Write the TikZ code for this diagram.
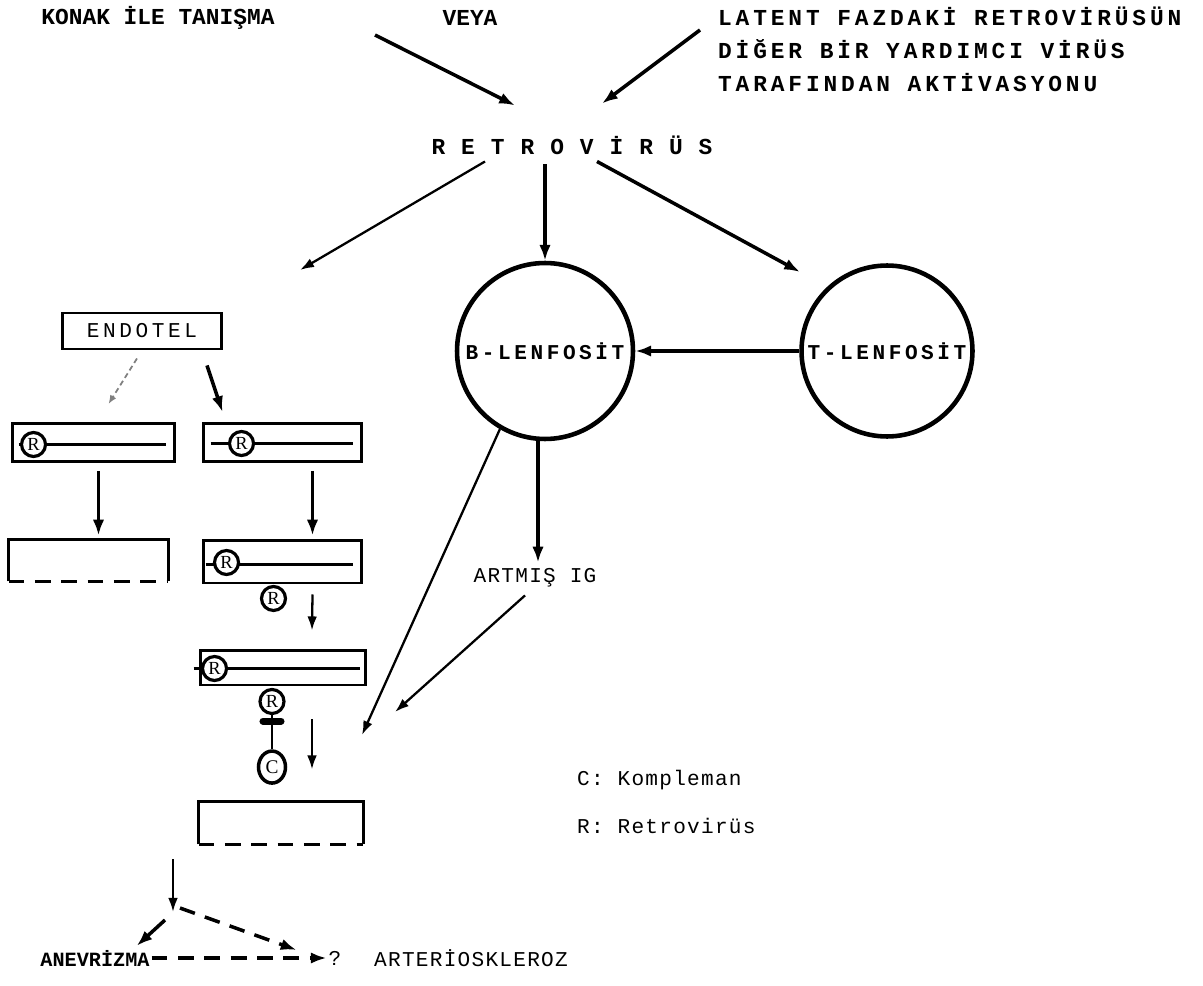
\documentclass[tikz,border=0pt]{standalone}
\usepackage{fontspec}
\setmainfont{Liberation Serif}
\newfontfamily\twplain{Liberation Mono}
\newfontfamily\twnarrow[LetterSpace=6]{Liberation Mono}
\newfontfamily\twmid[LetterSpace=10]{Liberation Mono}
\newfontfamily\twwide[LetterSpace=17]{Liberation Mono}
\usetikzlibrary{arrows.meta,positioning,calc,shapes.geometric}

\begin{document}
\begin{tikzpicture}[x=0.02cm,y=-0.02cm,
  arr/.style={-{Latex[length=9pt,width=6.5pt]},line width=2pt},
  thinarr/.style={-{Latex[length=8pt,width=5.5pt]},line width=1.3pt},
  faintarr/.style={-{Latex[length=5pt,width=4pt]},line width=1pt,gray,densely dashed},
  toptxt/.style={font=\twplain\bfseries\fontsize{13}{18.8}\selectfont,inner sep=1pt},
  widetxt/.style={font=\twwide\bfseries\fontsize{13}{18.8}\selectfont,inner sep=1pt},
  lowtxt/.style={font=\twnarrow\fontsize{12}{14}\selectfont,inner sep=1pt},
  lymph/.style={circle,draw,line width=2.6pt,inner sep=0pt,font=\twwide\bfseries\fontsize{12}{14}\selectfont},
  cellbox/.style={line width=1.7pt,minimum width=3.2cm,minimum height=0.76cm,inner sep=0pt},
  memline/.style={line width=1.4pt},
  rcirc/.style={circle,draw,line width=1.8pt,fill=white,inner sep=0pt,minimum size=0.48cm,font=\fontsize{10.5}{10.5}\selectfont},
  longdash/.style={dash pattern=on 9pt off 6pt}
]
\fill[white] (0,0) rectangle (1203,986);
\useasboundingbox (0,0) rectangle (1203,986);

% -------- header --------
\node[toptxt] (konak) at (158,18) {KONAK İLE TANIŞMA};
\node[toptxt] (veya) at (470,18) {VEYA};
\node[widetxt,anchor=north west,align=left] (latent) at (716,5)
  {LATENT FAZDAKİ RETROVİRÜSÜN\\DİĞER BİR YARDIMCI VİRÜS\\TARAFINDAN AKTİVASYONU};
\node[toptxt,font=\twmid\bfseries\fontsize{13}{16}\selectfont] (retro) at (572,145) {R E T R O V İ R Ü S};

\coordinate (k0) at (375,35);
\coordinate (l0) at (700,30);
\draw[arr] (k0) -- ($(retro.north)+(-57,-28)$);
\draw[arr] (l0) -- ($(retro.north)+(30,-30)$);

% -------- lymphocytes --------
\node[lymph,minimum size=3.52cm] (blen) at (545,351) {B-LENFOSİT};
\node[lymph,minimum size=3.42cm] (tlen) at (887,351) {T-LENFOSİT};
\coordinate (wall) at (300,270);
\coordinate (tin) at (800,272);
\draw[thinarr] ($(retro.south)+(-87,5)$) -- (wall);
\draw[arr] ($(retro.south)+(-27,8)$) -- (blen.north);
\draw[arr] ($(retro.south)+(25,5)$) -- (tin);
\draw[arr] (tlen.west) -- (blen.east);

\node[lowtxt] (artmis) at (535,578) {ARTMIŞ IG};
\coordinate (hit) at (362,735);
\coordinate (hit2) at (395,712);
\draw[arr] ($(blen.south)+(-7,0)$) -- ($(artmis.north)+(3,-4)$);
\draw[thinarr] (blen.240) -- (hit);
\draw[thinarr] ($(artmis.south)+(-10,6)$) -- (hit2);

% -------- endothel cells --------
\node[draw,line width=1.7pt,minimum width=3.2cm,minimum height=0.72cm,font=\twwide\fontsize{12}{14}\selectfont] (endo) at (142,331) {ENDOTEL};

\node[cellbox,draw,minimum width=3.26cm] (lb1) at (93.5,442.5) {};
\node[cellbox,draw,minimum width=3.18cm] (rb1) at (282.5,442.5) {};
\node[cellbox,minimum width=3.14cm,minimum height=0.78cm] (lb2) at (88.5,560.5) {};
\node[cellbox,draw,minimum width=3.18cm,minimum height=0.86cm] (rb2) at (282.5,561.5) {};
\node[cellbox,draw,minimum width=3.32cm,minimum height=0.7cm] (rb3) at (283,667.5) {};
\node[cellbox,minimum width=3.24cm,minimum height=0.8cm] (bb) at (281,823) {};

% open boxes: solid top, dashed floor
\draw[line width=1.7pt] (lb2.south west) -- (lb2.north west) -- (lb2.north east) -- (lb2.south east);
\draw[line width=1.7pt,longdash] (lb2.south west) -- (lb2.south east);
\draw[line width=1.7pt] (bb.south west) -- (bb.north west) -- (bb.north east) -- (bb.south east);
\draw[line width=1.7pt,longdash] (bb.south west) -- (bb.south east);

% membranes with virus
\draw[memline] ($(lb1.west)+(8,2)$) -- ($(lb1.east)+(-10,2)$);
\draw[memline] ($(rb1.west)+(9,1)$) -- ($(rb1.east)+(-10,1)$);
\draw[memline] ($(rb2.west)+(4,3)$) -- ($(rb2.east)+(-10,3)$);
\draw[memline] ($(rb3.west)+(-5,1)$) -- ($(rb3.east)+(-7,1)$);
\node[rcirc] (r0) at ($(lb1.west)+(23,2)$) {R};
\node[rcirc] (r1) at ($(rb1.west)+(40,1)$) {R};
\node[rcirc] (r2) at ($(rb2.west)+(25,1)$) {R};
\node[rcirc] (r2b) at ($(rb2.south)+(-9,14)$) {R};
\node[rcirc] (r3) at ($(rb3.west)+(16,1)$) {R};
\node[rcirc] (r3b) at ($(rb3.south)+(-11,15)$) {R};
\node[ellipse,draw,line width=2pt,inner sep=0pt,minimum width=0.54cm,minimum height=0.64cm,font=\fontsize{11}{11}\selectfont] (comp) at ($(r3b.south)+(0,52)$) {C};
\draw[line width=1.6pt] (r3b.south) -- (comp.north);
\draw[line width=4pt,line cap=round] ($(r3b.south)+(-9,6)$) -- ($(r3b.south)+(9,6)$);

% -------- arrows down the cells --------
\draw[faintarr] ($(endo.south)+(-5,8)$) -- ($(lb1.north)+(15,-18)$);
\draw[arr] ($(endo.south)+(65,15)$) -- ($(rb1.north)+(-60,-10)$);
\draw[arr] ($(lb1.south)+(5,8)$) -- ($(lb2.north)+(10,-4)$);
\draw[arr] ($(rb1.south)+(30,8)$) -- ($(rb2.north)+(30,-3)$);
\draw[thinarr] ($(rb2.south)+(30,10)$) -- ($(rb3.north)+(29,-18)$);
\draw[thinarr] ($(rb3.south)+(29,33)$) -- ($(bb.north)+(31,-32)$);

% -------- outcome --------
\node[toptxt,font=\twplain\bfseries\fontsize{11.5}{14}\selectfont] (anev) at (95,958) {ANEVRİZMA};
\node[lowtxt] (qmark) at (335,958) {?};
\node[lowtxt] (arter) at (471,958) {ARTERİOSKLEROZ};
\coordinate (split) at (173,912);
\draw[thinarr] ($(bb.south)+(-108,15)$) -- (split);
\draw[arr] ($(split)+(-8,8)$) -- ($(anev.north east)+(-15,-2)$);
\draw[arr,longdash] ($(split)+(7,-4)$) -- ($(qmark.west)+(-30,-8)$);
\draw[arr,longdash] (anev.east) -- (qmark.west);

% -------- legend --------
\node[lowtxt,anchor=west] (legc) at (575,780) {C: Kompleman};
\node[lowtxt,anchor=west] (legr) at (575,826) {R: Retrovirüs};
\end{tikzpicture}
\end{document}
